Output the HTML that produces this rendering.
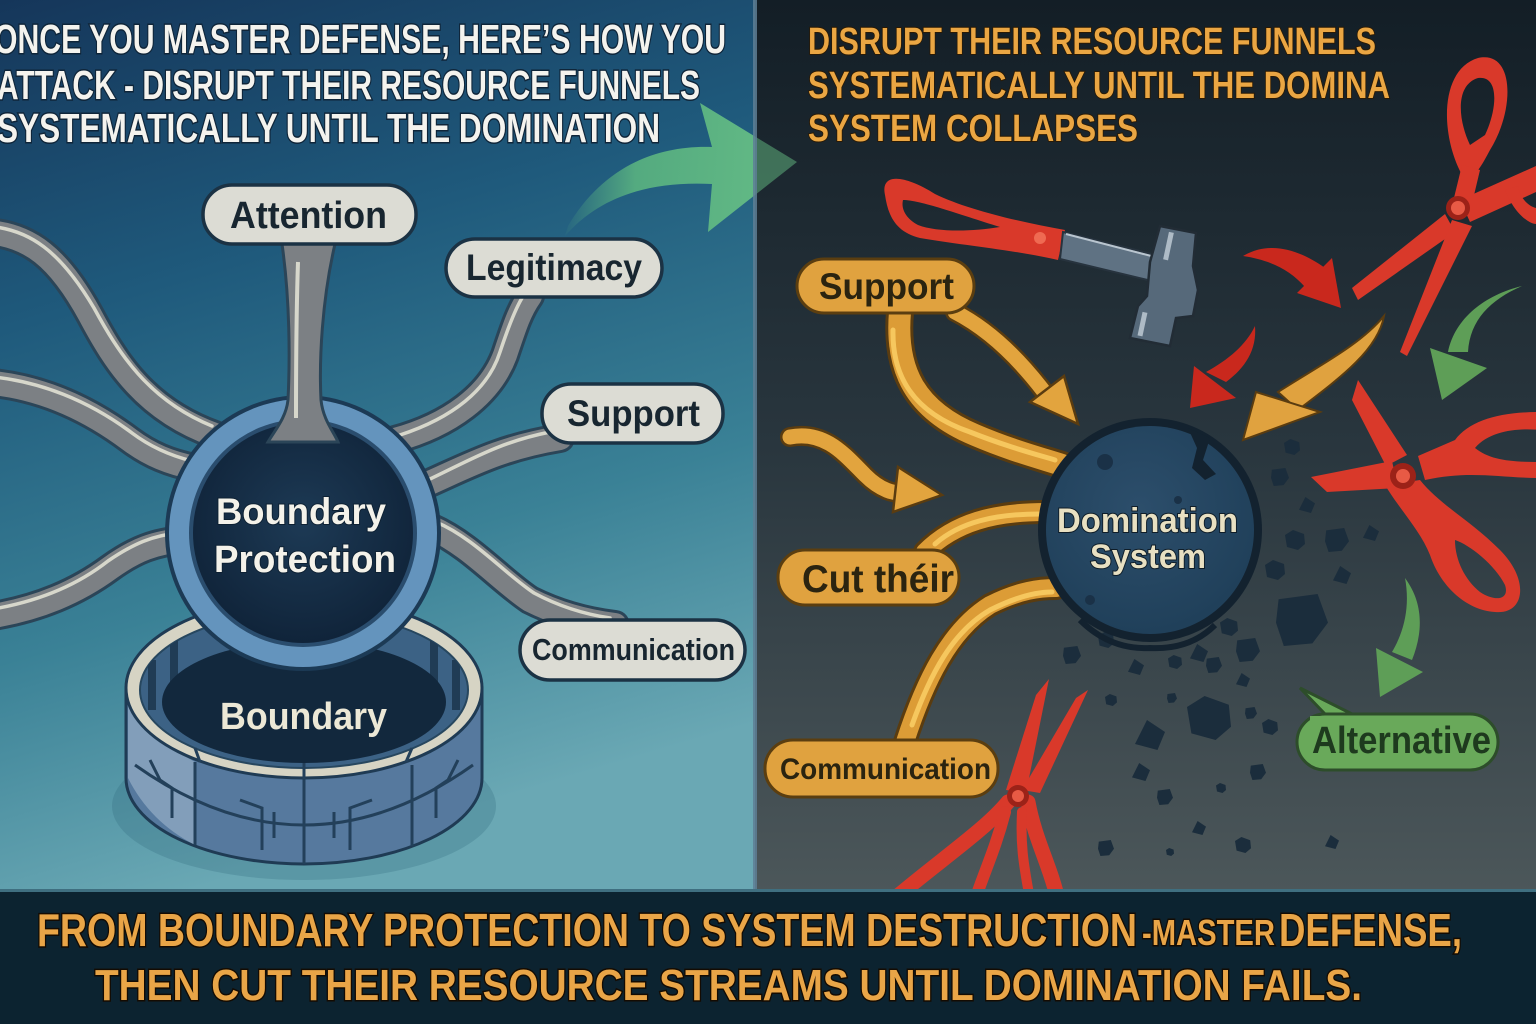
<!DOCTYPE html>
<html><head><meta charset="utf-8">
<style>html,body{margin:0;padding:0;background:#0c2330;}svg{display:block}</style></head>
<body>
<svg width="1536" height="1024" viewBox="0 0 1536 1024" xmlns="http://www.w3.org/2000/svg">
<defs>
<linearGradient id="lg" x1="0" y1="0" x2="0.25" y2="1">
 <stop offset="0" stop-color="#15365a"/>
 <stop offset="0.35" stop-color="#1f5a7c"/>
 <stop offset="0.7" stop-color="#3a8196"/>
 <stop offset="1" stop-color="#6aa8b4"/>
</linearGradient>
<linearGradient id="rg" x1="0" y1="0" x2="0" y2="1">
 <stop offset="0" stop-color="#131e26"/>
 <stop offset="0.5" stop-color="#29363e"/>
 <stop offset="1" stop-color="#4c575a"/>
</linearGradient>
<radialGradient id="dark" cx="0.5" cy="0.45" r="0.55">
 <stop offset="0" stop-color="#1d3a55"/><stop offset="1" stop-color="#10243a"/>
</radialGradient>
<radialGradient id="dom" cx="0.45" cy="0.4" r="0.6">
 <stop offset="0" stop-color="#2c4e6b"/><stop offset="1" stop-color="#20405a"/>
</radialGradient>
<linearGradient id="garrow" x1="565" y1="0" x2="800" y2="0" gradientUnits="userSpaceOnUse">
 <stop offset="0" stop-color="#5db880" stop-opacity="0.05"/>
 <stop offset="0.3" stop-color="#5db880" stop-opacity="0.85"/>
 <stop offset="1" stop-color="#66bd86"/>
</linearGradient>
<clipPath id="cl"><rect x="0" y="0" width="755" height="892"/></clipPath>
<clipPath id="cr"><rect x="755" y="0" width="781" height="892"/></clipPath>
<clipPath id="inner"><ellipse cx="304" cy="690" rx="164" ry="78"/></clipPath>
<polygon id="rk1" points="-1,-0.5 -0.2,-1 0.9,-0.6 1,0.4 0.3,1 -0.8,0.7"/>
<polygon id="rk2" points="-0.9,-0.8 0.6,-1 1,0.1 0.4,0.9 -0.7,1 -1,0.1"/>
<polygon id="rk3" points="-0.2,-1 1,-0.2 0.5,1 -1,0.6"/>
</defs>

<!-- panels -->
<rect x="0" y="0" width="755" height="892" fill="url(#lg)"/>
<rect x="755" y="0" width="781" height="892" fill="url(#rg)"/>

<!-- ================= LEFT ================= -->
<g font-family="'Liberation Sans Narrow','Liberation Sans',sans-serif" font-weight="bold">
<g fill="#f4f3ee" stroke="#0f2539" stroke-width="3" paint-order="stroke" font-size="41">
 <text x="-6" y="53" textLength="732" lengthAdjust="spacingAndGlyphs">ONCE YOU MASTER DEFENSE, HERE’S HOW YOU</text>
 <text x="-3" y="99" textLength="703" lengthAdjust="spacingAndGlyphs">ATTACK - DISRUPT THEIR RESOURCE FUNNELS</text>
 <text x="-3" y="142" textLength="663" lengthAdjust="spacingAndGlyphs">SYSTEMATICALLY UNTIL THE DOMINATION</text>
</g>
</g>

<g clip-path="url(#cl)">
<!-- cylinder -->
<ellipse cx="304" cy="806" rx="192" ry="74" fill="#2a6578" opacity="0.25"/>
<path d="M126 688 L126 778 A178 86 0 0 0 482 778 L482 688 Z" fill="#56799e" stroke="#1f3b54" stroke-width="3"/>
<path d="M128 700 L128 778 Q150 822 195 845 L195 762 Q150 738 128 700 Z" fill="#8aa4be" opacity="0.85"/>
<path d="M135 765 Q304 885 473 765" fill="none" stroke="#23405a" stroke-width="3"/>
<g stroke="#23405a" stroke-width="3" fill="none">
 <line x1="195" y1="762" x2="195" y2="845"/>
 <line x1="304" y1="778" x2="304" y2="864"/>
 <line x1="412" y1="765" x2="412" y2="846"/>
 <path d="M240 800 L262 808 L262 850"/>
 <path d="M372 800 L350 808 L350 850"/>
 <line x1="274" y1="812" x2="274" y2="838"/>
 <line x1="334" y1="812" x2="334" y2="838"/>
 <path d="M150 760 L160 780 L172 788 L172 818"/>
 <path d="M458 760 L448 780 L436 788 L436 818"/>
</g>
<ellipse cx="304" cy="688" rx="178" ry="90" fill="#d6d4c4" stroke="#1f3b54" stroke-width="3"/>
<ellipse cx="304" cy="690" rx="164" ry="78" fill="#3c6285" stroke="#27475f" stroke-width="2"/>
<g fill="#203c55" clip-path="url(#inner)">
 <rect x="148" y="660" width="8" height="50"/>
 <rect x="452" y="660" width="8" height="50"/>
 <rect x="170" y="640" width="8" height="45"/>
 <rect x="430" y="640" width="8" height="45"/>
</g>
<ellipse cx="304" cy="702" rx="142" ry="61" fill="#12283d"/>
<line x1="304" y1="763" x2="304" y2="779" stroke="#23405a" stroke-width="3"/>
<line x1="195" y1="748" x2="200" y2="762" stroke="#23405a" stroke-width="3"/>
<line x1="412" y1="748" x2="406" y2="762" stroke="#23405a" stroke-width="3"/>
<text x="220" y="729" font-family="'Liberation Sans Narrow','Liberation Sans',sans-serif" font-weight="bold" font-size="38" fill="#ece8d6" textLength="167" lengthAdjust="spacingAndGlyphs">Boundary</text>

<!-- pipes -->
<g fill="none" stroke-linecap="round">
 <g stroke="#2b4558" stroke-width="30">
  <path d="M-20 232 C30 232 60 260 90 315 C115 362 145 410 215 435"/>
  <path d="M-20 382 C40 385 90 410 130 440 C150 455 170 463 195 468"/>
  <path d="M-20 618 C40 610 80 590 110 568 C135 550 155 542 185 540"/>
  <path d="M395 440 C450 425 490 395 505 355 C515 325 520 310 530 296"/>
  <path d="M425 485 C470 465 500 448 560 438"/>
  <path d="M432 528 C470 545 500 580 530 600 C560 615 590 622 615 625"/>
 </g>
 <g stroke="#7c8084" stroke-width="24">
  <path d="M-20 232 C30 232 60 260 90 315 C115 362 145 410 215 435"/>
  <path d="M-20 382 C40 385 90 410 130 440 C150 455 170 463 195 468"/>
  <path d="M-20 618 C40 610 80 590 110 568 C135 550 155 542 185 540"/>
  <path d="M395 440 C450 425 490 395 505 355 C515 325 520 310 530 296"/>
  <path d="M425 485 C470 465 500 448 560 438"/>
  <path d="M432 528 C470 545 500 580 530 600 C560 615 590 622 615 625"/>
 </g>
 <g stroke="#d7d7cb" stroke-width="3.5">
  <path d="M-20 226 C30 226 62 254 94 308 C118 352 148 400 212 426"/>
  <path d="M-20 376 C40 379 92 403 132 433 C152 448 172 456 192 461"/>
  <path d="M-20 611 C40 603 80 583 108 561 C133 544 153 535 180 533"/>
  <path d="M400 435 C452 418 488 390 500 352 C510 322 516 308 522 298"/>
  <path d="M430 479 C472 459 500 442 550 432"/>
  <path d="M436 522 C474 538 504 573 534 593 C562 608 590 615 610 618"/>
 </g>
</g>

<!-- ring -->
<circle cx="303" cy="533" r="138" fill="#1c3a55"/>
<circle cx="303" cy="533" r="134" fill="#6494bd"/>
<circle cx="303" cy="533" r="114" fill="#2a4d6e"/>
<circle cx="303" cy="533" r="110" fill="url(#dark)"/>

<!-- attention stem -->
<path d="M282 244 L335 244 C322 300 319 360 321 400 C323 420 334 432 338 442 L268 442 C275 430 286 418 288 400 C290 360 290 300 282 244 Z" fill="#7c8084" stroke="#2b4558" stroke-width="3"/>
<path d="M298 262 C296 320 296 380 296 418" stroke="#d7d7cb" stroke-width="4" fill="none"/>

<g font-family="'Liberation Sans Narrow','Liberation Sans',sans-serif" font-weight="bold">
<g fill="#f4f2ea" stroke="#0e2133" stroke-width="2" paint-order="stroke">
 <text x="216" y="524" font-size="37" textLength="170" lengthAdjust="spacingAndGlyphs">Boundary</text>
 <text x="214" y="572" font-size="38" textLength="182" lengthAdjust="spacingAndGlyphs">Protection</text>
</g>

<!-- pills -->
<g fill="#dcdcd4" stroke="#1b3244" stroke-width="3.5">
 <rect x="203" y="185" width="213" height="59" rx="29"/>
 <rect x="446" y="239" width="216" height="58" rx="29"/>
 <rect x="542" y="384" width="181" height="59" rx="29"/>
 <rect x="520" y="620" width="225" height="60" rx="30"/>
</g>
<g fill="#182630">
 <text x="230" y="228" font-size="38" textLength="157" lengthAdjust="spacingAndGlyphs">Attention</text>
 <text x="466" y="280" font-size="37" textLength="176" lengthAdjust="spacingAndGlyphs">Legitimacy</text>
 <text x="567" y="426" font-size="37" textLength="133" lengthAdjust="spacingAndGlyphs">Support</text>
 <text x="532" y="660" font-size="31" textLength="203" lengthAdjust="spacingAndGlyphs">Communication</text>
</g>
</g>
</g>

<!-- ================= RIGHT ================= -->
<g clip-path="url(#cr)">
<g font-family="'Liberation Sans Narrow','Liberation Sans',sans-serif" font-weight="bold" fill="#eaa643" stroke="#2a1a05" stroke-width="2" paint-order="stroke" font-size="38">
 <text x="808" y="54" textLength="568" lengthAdjust="spacingAndGlyphs">DISRUPT THEIR RESOURCE FUNNELS</text>
 <text x="808" y="98" textLength="582" lengthAdjust="spacingAndGlyphs">SYSTEMATICALLY UNTIL THE DOMINA</text>
 <text x="808" y="141" textLength="330" lengthAdjust="spacingAndGlyphs">SYSTEM COLLAPSES</text>
</g>

<!-- debris -->
<g fill="#1b2d3c">
 <use href="#rk1" transform="translate(1292 447) scale(8)"/>
 <use href="#rk2" transform="translate(1280 477) scale(9)"/>
 <use href="#rk3" transform="translate(1307 505) scale(8)"/>
 <use href="#rk1" transform="translate(1295 540) scale(10)"/>
 <use href="#rk2" transform="translate(1337 540) scale(12)"/>
 <use href="#rk3" transform="translate(1342 575) scale(9)"/>
 <use href="#rk1" transform="translate(1275 570) scale(10)"/>
 <use href="#rk2" transform="translate(1302 620) scale(26)"/>
 <use href="#rk3" transform="translate(1371 533) scale(8)"/>
 <use href="#rk1" transform="translate(1229 627) scale(9)"/>
 <use href="#rk2" transform="translate(1248 650) scale(12)"/>
 <use href="#rk3" transform="translate(1199 653) scale(9)"/>
 <use href="#rk1" transform="translate(1106 640) scale(8)"/>
 <use href="#rk2" transform="translate(1072 655) scale(9)"/>
 <use href="#rk3" transform="translate(1136 667) scale(8)"/>
 <use href="#rk1" transform="translate(1175 662) scale(7)"/>
 <use href="#rk2" transform="translate(1214 665) scale(8)"/>
 <use href="#rk3" transform="translate(1243 680) scale(7)"/>
 <use href="#rk1" transform="translate(1111 700) scale(6)"/>
 <use href="#rk2" transform="translate(1172 698) scale(5)"/>
 <use href="#rk1" transform="translate(1209 718) scale(22)"/>
 <use href="#rk3" transform="translate(1150 735) scale(15)"/>
 <use href="#rk2" transform="translate(1251 713) scale(6)"/>
 <use href="#rk1" transform="translate(1270 727) scale(8)"/>
 <use href="#rk3" transform="translate(1141 772) scale(9)"/>
 <use href="#rk2" transform="translate(1258 772) scale(8)"/>
 <use href="#rk1" transform="translate(1221 788) scale(5)"/>
 <use href="#rk2" transform="translate(1165 797) scale(8)"/>
 <use href="#rk3" transform="translate(1199 828) scale(7)"/>
 <use href="#rk1" transform="translate(1243 845) scale(8)"/>
 <use href="#rk3" transform="translate(1332 842) scale(7)"/>
 <use href="#rk2" transform="translate(1106 848) scale(8)"/>
 <use href="#rk1" transform="translate(1170 852) scale(4)"/>
 <use href="#rk2" transform="translate(1090 590) scale(7)"/>
</g>

<!-- orange bands -->
<g fill="none" stroke-linecap="round">
 <g stroke="#5a3c10" stroke-width="28">
  <path d="M900 312 C895 370 915 410 975 435 C1010 450 1040 458 1062 465"/>
 </g>
 <g stroke="#5a3c10" stroke-width="24">
  <path d="M925 552 C955 522 995 512 1045 512"/>
  <path d="M905 742 C925 680 950 630 990 605 C1020 590 1040 588 1056 588"/>
 </g>
 <g stroke="#5a3c10" stroke-width="20">
  <path d="M955 312 C990 330 1020 360 1045 393"/>
  <path d="M790 437 C825 430 845 455 865 475 C880 490 895 495 905 492"/>
 </g>
 <g stroke="#dc9c36" stroke-width="22">
  <path d="M900 312 C895 370 915 410 975 435 C1010 450 1040 458 1062 465"/>
 </g>
 <g stroke="#dc9c36" stroke-width="18">
  <path d="M925 552 C955 522 995 512 1045 512"/>
  <path d="M905 742 C925 680 950 630 990 605 C1020 590 1040 588 1056 588"/>
 </g>
 <g stroke="#e2a43e" stroke-width="15">
  <path d="M955 312 C990 330 1020 360 1045 393"/>
  <path d="M790 437 C825 430 845 455 865 475 C880 490 895 495 905 492"/>
 </g>
 <g stroke="#f6c75e" stroke-width="5">
  <path d="M893 330 C892 375 912 412 970 432 C1005 446 1035 454 1055 460"/>
  <path d="M935 544 C960 522 995 514 1040 514"/>
  <path d="M912 725 C930 675 952 632 990 610 C1018 596 1038 592 1052 592"/>
 </g>
</g>
<g fill="#e2a43e" stroke="#5a3c10" stroke-width="2.5">
 <polygon points="1078,424 1064,376 1030,402"/>
 <polygon points="942,495 898,467 893,512"/>
</g>

<!-- domination circle -->
<circle cx="1150" cy="530" r="112" fill="#13222f"/>
<circle cx="1150" cy="530" r="104" fill="url(#dom)"/>
<polygon points="1188,428 1210,438 1203,460 1216,474 1205,480 1192,468 1197,448" fill="#13222f"/>
<g fill="#1a3147">
 <circle cx="1105" cy="462" r="8"/>
 <circle cx="1178" cy="500" r="4"/>
 <circle cx="1090" cy="600" r="5"/>
</g>
<path d="M1080 620 Q1110 650 1150 648 Q1190 650 1215 625" fill="none" stroke="#13222f" stroke-width="6"/>
<g font-family="'Liberation Sans','DejaVu Sans',sans-serif" font-weight="bold" fill="#e8e0c2" stroke="#0f1d28" stroke-width="2" paint-order="stroke">
 <text x="1057" y="532" font-size="34" textLength="181" lengthAdjust="spacingAndGlyphs">Domination</text>
 <text x="1090" y="568" font-size="34" textLength="116" lengthAdjust="spacingAndGlyphs">System</text>
</g>

<!-- orange pills -->
<g fill="#e0a23f" stroke="#5b3e10" stroke-width="3">
 <rect x="797" y="259" width="177" height="54" rx="27"/>
 <rect x="778" y="550" width="181" height="55" rx="27"/>
 <rect x="765" y="740" width="233" height="57" rx="28"/>
</g>
<g font-family="'Liberation Sans Narrow','Liberation Sans',sans-serif" font-weight="bold" fill="#2b2410">
 <text x="819" y="299" font-size="37" textLength="135" lengthAdjust="spacingAndGlyphs">Support</text>
 <text x="802" y="592" font-size="39" textLength="152" lengthAdjust="spacingAndGlyphs">Cut théir</text>
 <text x="780" y="779" font-size="30" textLength="211" lengthAdjust="spacingAndGlyphs">Communication</text>
</g>

<!-- green alternative pill -->
<path d="M1325 714 L1300 688 L1352 714 Z" fill="#69a95a" stroke="#2d4d2a" stroke-width="3"/>
<rect x="1297" y="714" width="201" height="56" rx="28" fill="#69a95a" stroke="#2d4d2a" stroke-width="3"/>
<rect x="1310" y="716" width="40" height="6" fill="#69a95a"/>
<text x="1312" y="753" font-family="'Liberation Sans Narrow','Liberation Sans',sans-serif" font-weight="bold" font-size="38" fill="#1e3a1e" textLength="179" lengthAdjust="spacingAndGlyphs">Alternative</text>

<!-- red arrows -->
<g fill="#c9281d">
 <path d="M1243 256 C1270 240 1300 250 1325 268 L1305 287 C1290 270 1270 260 1243 256 Z"/>
 <polygon points="1297,293 1332,258 1341,308"/>
 <path d="M1255 326 C1257 350 1245 368 1226 382 L1206 372 C1228 360 1246 345 1255 326 Z"/>
 <polygon points="1190,408 1194,366 1236,398"/>
</g>
<!-- orange top-right arrow -->
<path d="M1384 316 C1378 350 1340 378 1298 410 L1278 392 C1320 365 1360 345 1384 316 Z" fill="#e0a23f" stroke="#5a3c10" stroke-width="2"/>
<polygon points="1243,440 1256,392 1320,412" fill="#e0a23f" stroke="#5a3c10" stroke-width="2"/>
<!-- green arrows -->
<g fill="#5e9e57">
 <path d="M1522 286 C1490 300 1470 320 1468 352 L1448 352 C1455 318 1485 295 1522 286 Z"/>
 <polygon points="1442,400 1430,348 1487,368"/>
 <path d="M1405 578 C1425 605 1422 635 1412 660 L1392 652 C1405 630 1410 605 1405 578 Z"/>
 <polygon points="1380,697 1376,648 1423,672"/>
</g>

<!-- hammer -->
<path d="M885 195 C880 172 905 175 935 194 C968 210 1020 222 1065 230 L1058 260 C1015 250 960 245 920 238 C895 232 888 215 885 195 Z M903 200 C920 200 958 214 1000 227 C970 232 936 232 918 225 C905 218 901 208 903 200 Z" fill="#d9392a" fill-rule="evenodd"/>
<circle cx="1040" cy="238" r="6" fill="#ef6a52"/>
<polygon points="1063,232 1160,256 1156,282 1060,259" fill="#5f7283" stroke="#27333e" stroke-width="2"/>
<line x1="1066" y1="234" x2="1155" y2="257" stroke="#b9c5cf" stroke-width="2"/>
<path d="M1160 226 L1196 233 L1193 266 L1198 290 L1193 316 L1176 318 L1170 346 L1130 338 L1138 306 L1147 296 L1150 262 Z" fill="#56697a" stroke="#222c35" stroke-width="2.5"/>
<rect x="1166" y="232" width="5" height="28" fill="#aebbc6" transform="rotate(12 1168 246)"/>
<rect x="1140" y="312" width="5" height="24" fill="#aebbc6" transform="rotate(12 1142 324)"/>

<!-- scissors 1 (top right) -->
<g fill="#d9392a">
 <path d="M1465 180 C1440 140 1438 70 1478 58 C1515 50 1515 110 1490 150 C1482 165 1475 178 1465 180 Z M1470 145 C1458 120 1455 85 1478 78 C1500 75 1497 110 1485 135 Z" fill-rule="evenodd"/>
 <polygon points="1462,165 1480,170 1470,212 1452,206"/>
 <polygon points="1445,214 1455,232 1358,300 1352,288"/>
 <polygon points="1452,220 1472,226 1407,356 1400,352"/>
 <polygon points="1460,200 1536,166 1536,192 1470,222"/>
 <path d="M1505 190 C1515 215 1530 224 1536 224 L1536 208 C1528 206 1520 198 1518 186 Z"/>
</g>
<circle cx="1458" cy="208" r="12" fill="#9c2218"/>
<circle cx="1458" cy="208" r="7" fill="#e85a45"/>

<!-- scissors 2 (middle right) -->
<g fill="#d9392a">
 <polygon points="1358,380 1407,455 1386,466 1352,400"/>
 <polygon points="1311,477 1392,461 1398,488 1327,492"/>
 <path d="M1418 456 L1455 440 C1470 420 1500 412 1540 412 L1540 478 C1500 478 1470 470 1425 480 Z M1475 448 C1490 430 1520 428 1540 430 L1540 462 C1510 462 1490 460 1475 448 Z" fill-rule="evenodd"/>
 <path d="M1385 485 L1420 480 C1440 505 1470 520 1500 550 C1530 580 1525 615 1495 612 C1465 610 1440 585 1430 555 C1420 530 1400 510 1385 485 Z M1455 540 C1470 545 1495 565 1505 585 C1510 600 1495 602 1480 592 C1465 580 1455 560 1455 540 Z" fill-rule="evenodd"/>
</g>
<circle cx="1403" cy="476" r="13" fill="#9c2218"/>
<circle cx="1403" cy="476" r="7" fill="#e85a45"/>

<!-- scissors 3 (bottom) -->
<g fill="#d9392a">
 <polygon points="1006,790 1026,793 1049,679 1036,695"/>
 <polygon points="1022,790 1040,793 1088,690 1076,698"/>
</g>
<g fill="none" stroke="#d9392a" stroke-linecap="round">
 <path d="M1008 802 C985 830 940 860 893 900" stroke-width="15"/>
 <path d="M1005 812 C995 850 985 870 975 900" stroke-width="12"/>
 <path d="M1028 802 C1035 840 1050 865 1058 900" stroke-width="15"/>
 <path d="M1022 812 C1020 850 1025 870 1030 900" stroke-width="10"/>
</g>
<circle cx="1018" cy="796" r="11" fill="#9c2218"/>
<circle cx="1018" cy="796" r="6" fill="#e85a45"/>
</g>

<!-- big green arrow -->
<g clip-path="url(#cl)">
 <path d="M565 236 C600 196 650 181 712 184 L708 232 L797 162 L700 103 L712 147 C650 145 600 172 568 226 Z" fill="url(#garrow)"/>
</g>
<g clip-path="url(#cr)" opacity="0.55">
 <path d="M565 236 C600 196 650 181 712 184 L708 232 L797 162 L700 103 L712 147 C650 145 600 172 568 226 Z" fill="#5fae7c"/>
</g>

<!-- divider -->
<rect x="753" y="0" width="4" height="892" fill="#5e7f95" opacity="0.85"/>

<!-- banner -->
<rect x="0" y="889" width="1536" height="3" fill="#3f6f80"/>
<rect x="0" y="892" width="1536" height="132" fill="#0c2330"/>
<g font-family="'Liberation Sans Narrow','Liberation Sans',sans-serif" font-weight="bold" fill="#e9a547" stroke="#140b02" stroke-width="3" paint-order="stroke">
 <text x="37" y="946" font-size="46" textLength="1100" lengthAdjust="spacingAndGlyphs">FROM BOUNDARY PROTECTION TO SYSTEM DESTRUCTION</text>
 <text x="1142" y="945" font-size="36" textLength="133" lengthAdjust="spacingAndGlyphs">-MASTER</text>
 <text x="1279" y="946" font-size="46" textLength="183" lengthAdjust="spacingAndGlyphs">DEFENSE,</text>
 <text x="95" y="1000" font-size="44" textLength="1267" lengthAdjust="spacingAndGlyphs">THEN CUT THEIR RESOURCE STREAMS UNTIL DOMINATION FAILS.</text>
</g>
</svg>
</body></html>
